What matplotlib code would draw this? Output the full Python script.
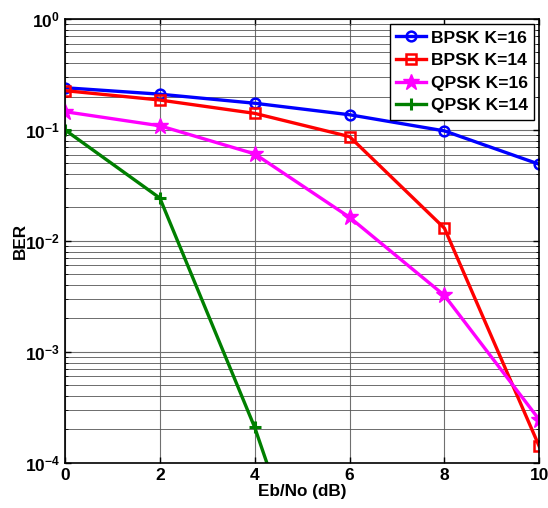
import matplotlib
matplotlib.use("Agg")
import matplotlib.pyplot as plt
from matplotlib.ticker import LogLocator, NullFormatter, FixedLocator

plt.rcParams['font.family'] = ['Liberation Sans', 'DejaVu Sans']
plt.rcParams['font.weight'] = 'bold'

ebno = [0, 2, 4, 6, 8, 10]
bpsk_k16 = [0.240, 0.210, 0.174, 0.137, 0.098, 0.049]
bpsk_k14 = [0.226, 0.186, 0.141, 0.087, 0.0130, 1.40e-4]
qpsk_k16 = [0.146, 0.109, 0.0608, 0.0163, 0.00322, 2.44e-4]
qpsk_k14_x = [0, 2, 4, 6]
qpsk_k14 = [0.100, 0.0243, 2.08e-4, 6.6e-7]
labels = ['BPSK K=16', 'BPSK K=14', 'QPSK K=16', 'QPSK K=14']

fig = plt.figure(figsize=(5.48, 5.08), dpi=100)
ax = fig.add_axes([0.1186, 0.0892, 0.8655, 0.8734])

lw = 2.4
ax.semilogy(ebno, bpsk_k16, '-o', color='#0000ff', lw=lw, ms=7, mew=1.8, mfc='none', label=labels[0])
ax.semilogy(ebno, bpsk_k14, '-s', color='#ff0000', lw=lw, ms=6.5, mew=1.8, mfc='none', label=labels[1])
ax.semilogy(ebno, qpsk_k16, '-*', color='#ff00ff', lw=lw, ms=12, mew=1, label=labels[2])
ax.semilogy(qpsk_k14_x, qpsk_k14, '-+', color='#007f00', lw=lw, ms=8, mew=2.2, label=labels[3])

ax.set_xlim(0, 10)
ax.set_ylim(1e-4, 1)
ax.xaxis.set_major_locator(FixedLocator(ebno))
ax.yaxis.set_major_locator(LogLocator(base=10, numticks=10))
ax.yaxis.set_minor_locator(LogLocator(base=10, subs=range(2, 10), numticks=20))
ax.yaxis.set_minor_formatter(NullFormatter())

ax.grid(True, which='major', color='#707070', lw=0.8)
ax.grid(True, which='minor', axis='y', color='#555555', lw=0.6)
ax.tick_params(which='both', direction='in', top=True, right=True, labelsize=12.5)
ax.tick_params(which='major', length=4, width=1)
ax.tick_params(which='minor', length=2.5)
for lbl in ax.get_xticklabels() + ax.get_yticklabels():
    lbl.set_fontweight('bold')
for s in ax.spines.values():
    s.set_linewidth(1.2)

ax.set_xlabel('Eb/No (dB)', fontsize=12.3, fontweight='bold', labelpad=1)
ax.set_ylabel('BER', fontsize=12.3, fontweight='bold', labelpad=-2)

leg = ax.legend(loc='upper right', prop={'weight': 'bold', 'size': 12.6},
                fancybox=False, framealpha=1, edgecolor='black', borderpad=0.35,
                labelspacing=0.42, handlelength=1.7, handletextpad=0.3,
                borderaxespad=0.3)
leg.get_frame().set_linewidth(1.0)

fig.savefig('out.png', dpi=100)
